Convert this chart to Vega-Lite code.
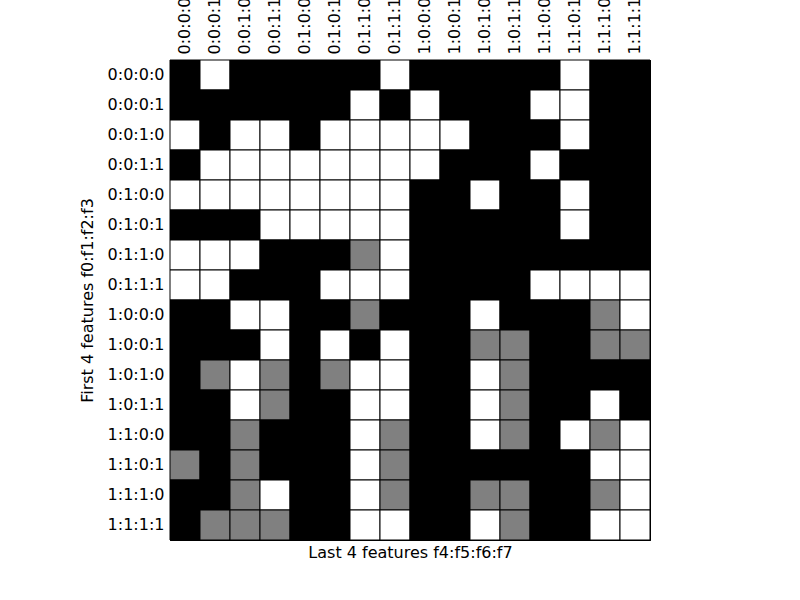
{
"$schema": "https://vega.github.io/schema/vega-lite/v6.json",
"width": 480, "height": 480,
"autosize": {"type": "none"},
"padding": {"left": 170, "top": 60, "right": 150, "bottom": 60},
"background": "white",
"config": {
  "view": {"stroke": "black", "strokeWidth": 1},
  "axis": {"labelFont": "DejaVu Sans", "titleFont": "DejaVu Sans", "labelFontSize": 16, "titleFontSize": 16, "titleFontWeight": "normal", "labelColor": "black", "titleColor": "black", "domainColor": "black", "tickColor": "black", "tickSize": -5, "zindex": 1, "grid": false}
},
"datasets": {"cells": [
{"r":"0:0:0:0","c":"0:0:0:0","v":0},{"r":"0:0:0:0","c":"0:0:0:1","v":1},{"r":"0:0:0:0","c":"0:0:1:0","v":0},{"r":"0:0:0:0","c":"0:0:1:1","v":0},{"r":"0:0:0:0","c":"0:1:0:0","v":0},{"r":"0:0:0:0","c":"0:1:0:1","v":0},{"r":"0:0:0:0","c":"0:1:1:0","v":0},{"r":"0:0:0:0","c":"0:1:1:1","v":1},{"r":"0:0:0:0","c":"1:0:0:0","v":0},{"r":"0:0:0:0","c":"1:0:0:1","v":0},{"r":"0:0:0:0","c":"1:0:1:0","v":0},{"r":"0:0:0:0","c":"1:0:1:1","v":0},{"r":"0:0:0:0","c":"1:1:0:0","v":0},{"r":"0:0:0:0","c":"1:1:0:1","v":1},{"r":"0:0:0:0","c":"1:1:1:0","v":0},{"r":"0:0:0:0","c":"1:1:1:1","v":0},
{"r":"0:0:0:1","c":"0:0:0:0","v":0},{"r":"0:0:0:1","c":"0:0:0:1","v":0},{"r":"0:0:0:1","c":"0:0:1:0","v":0},{"r":"0:0:0:1","c":"0:0:1:1","v":0},{"r":"0:0:0:1","c":"0:1:0:0","v":0},{"r":"0:0:0:1","c":"0:1:0:1","v":0},{"r":"0:0:0:1","c":"0:1:1:0","v":1},{"r":"0:0:0:1","c":"0:1:1:1","v":0},{"r":"0:0:0:1","c":"1:0:0:0","v":1},{"r":"0:0:0:1","c":"1:0:0:1","v":0},{"r":"0:0:0:1","c":"1:0:1:0","v":0},{"r":"0:0:0:1","c":"1:0:1:1","v":0},{"r":"0:0:0:1","c":"1:1:0:0","v":1},{"r":"0:0:0:1","c":"1:1:0:1","v":1},{"r":"0:0:0:1","c":"1:1:1:0","v":0},{"r":"0:0:0:1","c":"1:1:1:1","v":0},
{"r":"0:0:1:0","c":"0:0:0:0","v":1},{"r":"0:0:1:0","c":"0:0:0:1","v":0},{"r":"0:0:1:0","c":"0:0:1:0","v":1},{"r":"0:0:1:0","c":"0:0:1:1","v":1},{"r":"0:0:1:0","c":"0:1:0:0","v":0},{"r":"0:0:1:0","c":"0:1:0:1","v":1},{"r":"0:0:1:0","c":"0:1:1:0","v":1},{"r":"0:0:1:0","c":"0:1:1:1","v":1},{"r":"0:0:1:0","c":"1:0:0:0","v":1},{"r":"0:0:1:0","c":"1:0:0:1","v":1},{"r":"0:0:1:0","c":"1:0:1:0","v":0},{"r":"0:0:1:0","c":"1:0:1:1","v":0},{"r":"0:0:1:0","c":"1:1:0:0","v":0},{"r":"0:0:1:0","c":"1:1:0:1","v":1},{"r":"0:0:1:0","c":"1:1:1:0","v":0},{"r":"0:0:1:0","c":"1:1:1:1","v":0},
{"r":"0:0:1:1","c":"0:0:0:0","v":0},{"r":"0:0:1:1","c":"0:0:0:1","v":1},{"r":"0:0:1:1","c":"0:0:1:0","v":1},{"r":"0:0:1:1","c":"0:0:1:1","v":1},{"r":"0:0:1:1","c":"0:1:0:0","v":1},{"r":"0:0:1:1","c":"0:1:0:1","v":1},{"r":"0:0:1:1","c":"0:1:1:0","v":1},{"r":"0:0:1:1","c":"0:1:1:1","v":1},{"r":"0:0:1:1","c":"1:0:0:0","v":1},{"r":"0:0:1:1","c":"1:0:0:1","v":0},{"r":"0:0:1:1","c":"1:0:1:0","v":0},{"r":"0:0:1:1","c":"1:0:1:1","v":0},{"r":"0:0:1:1","c":"1:1:0:0","v":1},{"r":"0:0:1:1","c":"1:1:0:1","v":0},{"r":"0:0:1:1","c":"1:1:1:0","v":0},{"r":"0:0:1:1","c":"1:1:1:1","v":0},
{"r":"0:1:0:0","c":"0:0:0:0","v":1},{"r":"0:1:0:0","c":"0:0:0:1","v":1},{"r":"0:1:0:0","c":"0:0:1:0","v":1},{"r":"0:1:0:0","c":"0:0:1:1","v":1},{"r":"0:1:0:0","c":"0:1:0:0","v":1},{"r":"0:1:0:0","c":"0:1:0:1","v":1},{"r":"0:1:0:0","c":"0:1:1:0","v":1},{"r":"0:1:0:0","c":"0:1:1:1","v":1},{"r":"0:1:0:0","c":"1:0:0:0","v":0},{"r":"0:1:0:0","c":"1:0:0:1","v":0},{"r":"0:1:0:0","c":"1:0:1:0","v":1},{"r":"0:1:0:0","c":"1:0:1:1","v":0},{"r":"0:1:0:0","c":"1:1:0:0","v":0},{"r":"0:1:0:0","c":"1:1:0:1","v":1},{"r":"0:1:0:0","c":"1:1:1:0","v":0},{"r":"0:1:0:0","c":"1:1:1:1","v":0},
{"r":"0:1:0:1","c":"0:0:0:0","v":0},{"r":"0:1:0:1","c":"0:0:0:1","v":0},{"r":"0:1:0:1","c":"0:0:1:0","v":0},{"r":"0:1:0:1","c":"0:0:1:1","v":1},{"r":"0:1:0:1","c":"0:1:0:0","v":1},{"r":"0:1:0:1","c":"0:1:0:1","v":1},{"r":"0:1:0:1","c":"0:1:1:0","v":1},{"r":"0:1:0:1","c":"0:1:1:1","v":1},{"r":"0:1:0:1","c":"1:0:0:0","v":0},{"r":"0:1:0:1","c":"1:0:0:1","v":0},{"r":"0:1:0:1","c":"1:0:1:0","v":0},{"r":"0:1:0:1","c":"1:0:1:1","v":0},{"r":"0:1:0:1","c":"1:1:0:0","v":0},{"r":"0:1:0:1","c":"1:1:0:1","v":1},{"r":"0:1:0:1","c":"1:1:1:0","v":0},{"r":"0:1:0:1","c":"1:1:1:1","v":0},
{"r":"0:1:1:0","c":"0:0:0:0","v":1},{"r":"0:1:1:0","c":"0:0:0:1","v":1},{"r":"0:1:1:0","c":"0:0:1:0","v":1},{"r":"0:1:1:0","c":"0:0:1:1","v":0},{"r":"0:1:1:0","c":"0:1:0:0","v":0},{"r":"0:1:1:0","c":"0:1:0:1","v":0},{"r":"0:1:1:0","c":"0:1:1:0","v":0.5},{"r":"0:1:1:0","c":"0:1:1:1","v":1},{"r":"0:1:1:0","c":"1:0:0:0","v":0},{"r":"0:1:1:0","c":"1:0:0:1","v":0},{"r":"0:1:1:0","c":"1:0:1:0","v":0},{"r":"0:1:1:0","c":"1:0:1:1","v":0},{"r":"0:1:1:0","c":"1:1:0:0","v":0},{"r":"0:1:1:0","c":"1:1:0:1","v":0},{"r":"0:1:1:0","c":"1:1:1:0","v":0},{"r":"0:1:1:0","c":"1:1:1:1","v":0},
{"r":"0:1:1:1","c":"0:0:0:0","v":1},{"r":"0:1:1:1","c":"0:0:0:1","v":1},{"r":"0:1:1:1","c":"0:0:1:0","v":0},{"r":"0:1:1:1","c":"0:0:1:1","v":0},{"r":"0:1:1:1","c":"0:1:0:0","v":0},{"r":"0:1:1:1","c":"0:1:0:1","v":1},{"r":"0:1:1:1","c":"0:1:1:0","v":1},{"r":"0:1:1:1","c":"0:1:1:1","v":1},{"r":"0:1:1:1","c":"1:0:0:0","v":0},{"r":"0:1:1:1","c":"1:0:0:1","v":0},{"r":"0:1:1:1","c":"1:0:1:0","v":0},{"r":"0:1:1:1","c":"1:0:1:1","v":0},{"r":"0:1:1:1","c":"1:1:0:0","v":1},{"r":"0:1:1:1","c":"1:1:0:1","v":1},{"r":"0:1:1:1","c":"1:1:1:0","v":1},{"r":"0:1:1:1","c":"1:1:1:1","v":1},
{"r":"1:0:0:0","c":"0:0:0:0","v":0},{"r":"1:0:0:0","c":"0:0:0:1","v":0},{"r":"1:0:0:0","c":"0:0:1:0","v":1},{"r":"1:0:0:0","c":"0:0:1:1","v":1},{"r":"1:0:0:0","c":"0:1:0:0","v":0},{"r":"1:0:0:0","c":"0:1:0:1","v":0},{"r":"1:0:0:0","c":"0:1:1:0","v":0.5},{"r":"1:0:0:0","c":"0:1:1:1","v":0},{"r":"1:0:0:0","c":"1:0:0:0","v":0},{"r":"1:0:0:0","c":"1:0:0:1","v":0},{"r":"1:0:0:0","c":"1:0:1:0","v":1},{"r":"1:0:0:0","c":"1:0:1:1","v":0},{"r":"1:0:0:0","c":"1:1:0:0","v":0},{"r":"1:0:0:0","c":"1:1:0:1","v":0},{"r":"1:0:0:0","c":"1:1:1:0","v":0.5},{"r":"1:0:0:0","c":"1:1:1:1","v":1},
{"r":"1:0:0:1","c":"0:0:0:0","v":0},{"r":"1:0:0:1","c":"0:0:0:1","v":0},{"r":"1:0:0:1","c":"0:0:1:0","v":0},{"r":"1:0:0:1","c":"0:0:1:1","v":1},{"r":"1:0:0:1","c":"0:1:0:0","v":0},{"r":"1:0:0:1","c":"0:1:0:1","v":1},{"r":"1:0:0:1","c":"0:1:1:0","v":0},{"r":"1:0:0:1","c":"0:1:1:1","v":1},{"r":"1:0:0:1","c":"1:0:0:0","v":0},{"r":"1:0:0:1","c":"1:0:0:1","v":0},{"r":"1:0:0:1","c":"1:0:1:0","v":0.5},{"r":"1:0:0:1","c":"1:0:1:1","v":0.5},{"r":"1:0:0:1","c":"1:1:0:0","v":0},{"r":"1:0:0:1","c":"1:1:0:1","v":0},{"r":"1:0:0:1","c":"1:1:1:0","v":0.5},{"r":"1:0:0:1","c":"1:1:1:1","v":0.5},
{"r":"1:0:1:0","c":"0:0:0:0","v":0},{"r":"1:0:1:0","c":"0:0:0:1","v":0.5},{"r":"1:0:1:0","c":"0:0:1:0","v":1},{"r":"1:0:1:0","c":"0:0:1:1","v":0.5},{"r":"1:0:1:0","c":"0:1:0:0","v":0},{"r":"1:0:1:0","c":"0:1:0:1","v":0.5},{"r":"1:0:1:0","c":"0:1:1:0","v":1},{"r":"1:0:1:0","c":"0:1:1:1","v":1},{"r":"1:0:1:0","c":"1:0:0:0","v":0},{"r":"1:0:1:0","c":"1:0:0:1","v":0},{"r":"1:0:1:0","c":"1:0:1:0","v":1},{"r":"1:0:1:0","c":"1:0:1:1","v":0.5},{"r":"1:0:1:0","c":"1:1:0:0","v":0},{"r":"1:0:1:0","c":"1:1:0:1","v":0},{"r":"1:0:1:0","c":"1:1:1:0","v":0},{"r":"1:0:1:0","c":"1:1:1:1","v":0},
{"r":"1:0:1:1","c":"0:0:0:0","v":0},{"r":"1:0:1:1","c":"0:0:0:1","v":0},{"r":"1:0:1:1","c":"0:0:1:0","v":1},{"r":"1:0:1:1","c":"0:0:1:1","v":0.5},{"r":"1:0:1:1","c":"0:1:0:0","v":0},{"r":"1:0:1:1","c":"0:1:0:1","v":0},{"r":"1:0:1:1","c":"0:1:1:0","v":1},{"r":"1:0:1:1","c":"0:1:1:1","v":1},{"r":"1:0:1:1","c":"1:0:0:0","v":0},{"r":"1:0:1:1","c":"1:0:0:1","v":0},{"r":"1:0:1:1","c":"1:0:1:0","v":1},{"r":"1:0:1:1","c":"1:0:1:1","v":0.5},{"r":"1:0:1:1","c":"1:1:0:0","v":0},{"r":"1:0:1:1","c":"1:1:0:1","v":0},{"r":"1:0:1:1","c":"1:1:1:0","v":1},{"r":"1:0:1:1","c":"1:1:1:1","v":0},
{"r":"1:1:0:0","c":"0:0:0:0","v":0},{"r":"1:1:0:0","c":"0:0:0:1","v":0},{"r":"1:1:0:0","c":"0:0:1:0","v":0.5},{"r":"1:1:0:0","c":"0:0:1:1","v":0},{"r":"1:1:0:0","c":"0:1:0:0","v":0},{"r":"1:1:0:0","c":"0:1:0:1","v":0},{"r":"1:1:0:0","c":"0:1:1:0","v":1},{"r":"1:1:0:0","c":"0:1:1:1","v":0.5},{"r":"1:1:0:0","c":"1:0:0:0","v":0},{"r":"1:1:0:0","c":"1:0:0:1","v":0},{"r":"1:1:0:0","c":"1:0:1:0","v":1},{"r":"1:1:0:0","c":"1:0:1:1","v":0.5},{"r":"1:1:0:0","c":"1:1:0:0","v":0},{"r":"1:1:0:0","c":"1:1:0:1","v":1},{"r":"1:1:0:0","c":"1:1:1:0","v":0.5},{"r":"1:1:0:0","c":"1:1:1:1","v":1},
{"r":"1:1:0:1","c":"0:0:0:0","v":0.5},{"r":"1:1:0:1","c":"0:0:0:1","v":0},{"r":"1:1:0:1","c":"0:0:1:0","v":0.5},{"r":"1:1:0:1","c":"0:0:1:1","v":0},{"r":"1:1:0:1","c":"0:1:0:0","v":0},{"r":"1:1:0:1","c":"0:1:0:1","v":0},{"r":"1:1:0:1","c":"0:1:1:0","v":1},{"r":"1:1:0:1","c":"0:1:1:1","v":0.5},{"r":"1:1:0:1","c":"1:0:0:0","v":0},{"r":"1:1:0:1","c":"1:0:0:1","v":0},{"r":"1:1:0:1","c":"1:0:1:0","v":0},{"r":"1:1:0:1","c":"1:0:1:1","v":0},{"r":"1:1:0:1","c":"1:1:0:0","v":0},{"r":"1:1:0:1","c":"1:1:0:1","v":0},{"r":"1:1:0:1","c":"1:1:1:0","v":1},{"r":"1:1:0:1","c":"1:1:1:1","v":1},
{"r":"1:1:1:0","c":"0:0:0:0","v":0},{"r":"1:1:1:0","c":"0:0:0:1","v":0},{"r":"1:1:1:0","c":"0:0:1:0","v":0.5},{"r":"1:1:1:0","c":"0:0:1:1","v":1},{"r":"1:1:1:0","c":"0:1:0:0","v":0},{"r":"1:1:1:0","c":"0:1:0:1","v":0},{"r":"1:1:1:0","c":"0:1:1:0","v":1},{"r":"1:1:1:0","c":"0:1:1:1","v":0.5},{"r":"1:1:1:0","c":"1:0:0:0","v":0},{"r":"1:1:1:0","c":"1:0:0:1","v":0},{"r":"1:1:1:0","c":"1:0:1:0","v":0.5},{"r":"1:1:1:0","c":"1:0:1:1","v":0.5},{"r":"1:1:1:0","c":"1:1:0:0","v":0},{"r":"1:1:1:0","c":"1:1:0:1","v":0},{"r":"1:1:1:0","c":"1:1:1:0","v":0.5},{"r":"1:1:1:0","c":"1:1:1:1","v":1},
{"r":"1:1:1:1","c":"0:0:0:0","v":0},{"r":"1:1:1:1","c":"0:0:0:1","v":0.5},{"r":"1:1:1:1","c":"0:0:1:0","v":0.5},{"r":"1:1:1:1","c":"0:0:1:1","v":0.5},{"r":"1:1:1:1","c":"0:1:0:0","v":0},{"r":"1:1:1:1","c":"0:1:0:1","v":0},{"r":"1:1:1:1","c":"0:1:1:0","v":1},{"r":"1:1:1:1","c":"0:1:1:1","v":1},{"r":"1:1:1:1","c":"1:0:0:0","v":0},{"r":"1:1:1:1","c":"1:0:0:1","v":0},{"r":"1:1:1:1","c":"1:0:1:0","v":1},{"r":"1:1:1:1","c":"1:0:1:1","v":0.5},{"r":"1:1:1:1","c":"1:1:0:0","v":0},{"r":"1:1:1:1","c":"1:1:0:1","v":0},{"r":"1:1:1:1","c":"1:1:1:0","v":1},{"r":"1:1:1:1","c":"1:1:1:1","v":1}
]},
"data": {"name": "cells"},
"layer": [
  {
    "mark": {"type": "rect", "stroke": "black", "strokeWidth": 1},
    "encoding": {
      "x": {"field": "c", "type": "ordinal", "scale": {"paddingInner": 0, "paddingOuter": 0}, "axis": {"orient": "top", "labelAngle": -90, "title": null, "labelPadding": 11}},
      "y": {"field": "r", "type": "ordinal", "scale": {"paddingInner": 0, "paddingOuter": 0}, "axis": {"orient": "left", "title": "First 4 features f0:f1:f2:f3", "labelPadding": 11, "titlePadding": 12}},
      "color": {"field": "v", "type": "nominal", "scale": {"domain": [0, 0.5, 1], "range": ["#000000", "#808080", "#ffffff"]}, "legend": null}
    }
  },
  {
    "mark": {"type": "rect", "opacity": 0},
    "encoding": {
      "x": {"field": "c", "type": "ordinal", "axis": {"orient": "bottom", "labels": false, "title": "Last 4 features f4:f5:f6:f7", "titlePadding": 4}},
      "y": {"field": "r", "type": "ordinal", "axis": {"orient": "right", "labels": false, "title": null}}
    }
  }
],
"resolve": {"axis": {"x": "independent", "y": "independent"}}
}
